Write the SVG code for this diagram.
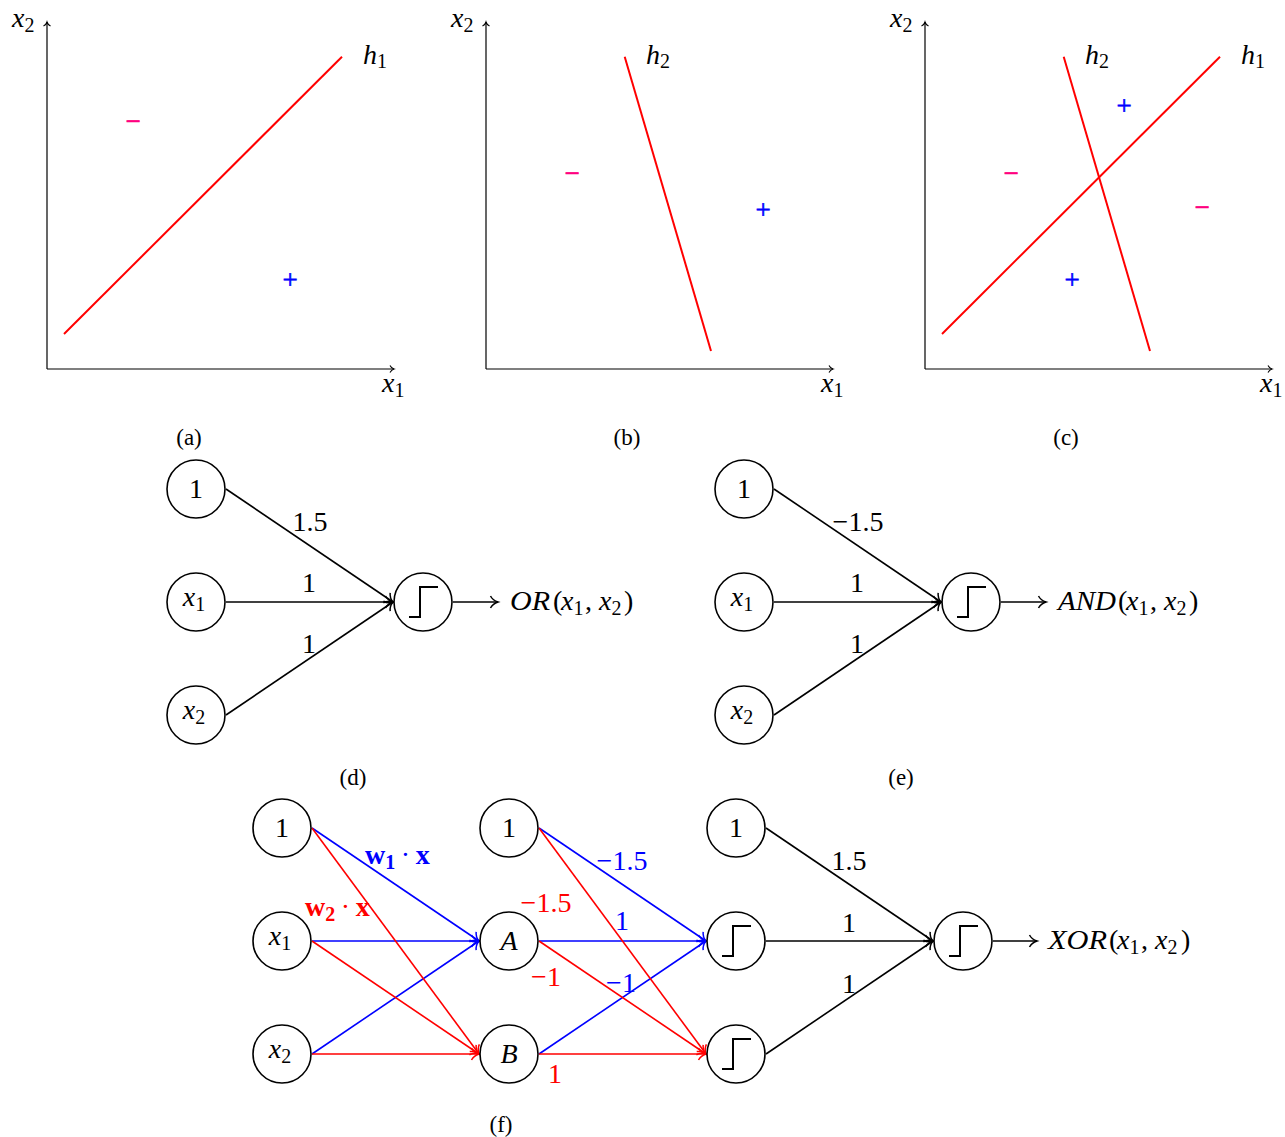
<svg xmlns="http://www.w3.org/2000/svg" xmlns:xlink="http://www.w3.org/1999/xlink" width="1285" height="1137" viewBox="0 0 1285 1137">
  <style>
    text { font-family: "Liberation Serif", "Times New Roman", serif; font-size: 28px; fill: #000; }
    .i { font-style: italic; }
    .b { font-weight: bold; }
    .sub { font-size: 20px; }
    .cap { font-size: 23px; }
    .sign { font-size: 27px; stroke-width: 0.6px; }
    .neu { fill: #fff; stroke: #000; stroke-width: 1.6; }
    .axis { stroke: #000; stroke-width: 1.2; fill: none; marker-end: url(#axtip); }
    .hyp { stroke: #ff0000; stroke-width: 2; fill: none; }
    .e { fill: none; stroke-width: 1.6; }
    .k { stroke: #000; marker-end: url(#tipk); }
    .bl { stroke: #0000ff; marker-end: url(#tipb); }
    .rd { stroke: #ff0000; marker-end: url(#tipr); }
    .stepfn { fill: none; stroke: #000; stroke-width: 2; }
    .blue { fill: #0000ff; }
    .red { fill: #ff0000; }
    .sign.blue { stroke: #0000ff; }
    .pink { fill: #ff0080; stroke: #ff0080; }
  </style>
  <defs>
    <marker id="axtip" markerUnits="userSpaceOnUse" viewBox="-8 -6 10 12" refX="0" refY="0" markerWidth="10" markerHeight="12" orient="auto" overflow="visible">
      <path d="M-4,-3.5 C-3,-1.5 -1,-0.3 0,0 C-1,0.3 -3,1.5 -4,3.5" fill="none" stroke="#000" stroke-width="1.1"/>
    </marker>
    <marker id="tipk" markerUnits="userSpaceOnUse" viewBox="-10 -8 12 16" refX="0" refY="0" markerWidth="12" markerHeight="16" orient="auto" overflow="visible">
      <path d="M-7.5,-6 C-5.8,-2.8 -2,-0.6 0,0 C-2,0.6 -5.8,2.8 -7.5,6" fill="none" stroke="#000" stroke-width="1.5"/>
    </marker>
    <marker id="tipb" markerUnits="userSpaceOnUse" viewBox="-10 -8 12 16" refX="0" refY="0" markerWidth="12" markerHeight="16" orient="auto" overflow="visible">
      <path d="M-7.5,-6 C-5.8,-2.8 -2,-0.6 0,0 C-2,0.6 -5.8,2.8 -7.5,6" fill="none" stroke="#0000ff" stroke-width="1.5"/>
    </marker>
    <marker id="tipr" markerUnits="userSpaceOnUse" viewBox="-10 -8 12 16" refX="0" refY="0" markerWidth="12" markerHeight="16" orient="auto" overflow="visible">
      <path d="M-7.5,-6 C-5.8,-2.8 -2,-0.6 0,0 C-2,0.6 -5.8,2.8 -7.5,6" fill="none" stroke="#ff0000" stroke-width="1.5"/>
    </marker>
    <!-- threshold (step) activation glyph, drawn about a neuron centre -->
    <path id="step" class="stepfn" d="M-14,15 H-3 V-15 H15"/>
  </defs>

  <!-- ===== (a) decision line h1 ===== -->
  <g id="plot-a">
    <path class="axis" d="M47,369 V22"/>
    <path class="axis" d="M47,369 H394"/>
    <text x="12" y="27"><tspan class="i">x</tspan><tspan class="sub" dy="5">2</tspan></text>
    <text x="382" y="392"><tspan class="i">x</tspan><tspan class="sub" dy="5">1</tspan></text>
    <path class="hyp" d="M64,334 L342,56.7"/>
    <text x="363" y="64"><tspan class="i">h</tspan><tspan class="sub" dy="4">1</tspan></text>
    <text class="sign pink" x="133" y="130" text-anchor="middle">−</text>
    <text class="sign blue" x="290" y="289" text-anchor="middle">+</text>
    <text class="cap" x="189" y="445" text-anchor="middle">(a)</text>
  </g>

  <!-- ===== (b) decision line h2 ===== -->
  <g id="plot-b">
    <path class="axis" d="M486,369 V22"/>
    <path class="axis" d="M486,369 H833"/>
    <text x="451" y="27"><tspan class="i">x</tspan><tspan class="sub" dy="5">2</tspan></text>
    <text x="821" y="392"><tspan class="i">x</tspan><tspan class="sub" dy="5">1</tspan></text>
    <path class="hyp" d="M624.7,56.7 L711,351"/>
    <text x="646" y="64"><tspan class="i">h</tspan><tspan class="sub" dy="4">2</tspan></text>
    <text class="sign pink" x="572" y="182" text-anchor="middle">−</text>
    <text class="sign blue" x="763" y="219" text-anchor="middle">+</text>
    <text class="cap" x="627" y="445" text-anchor="middle">(b)</text>
  </g>

  <!-- ===== (c) both lines ===== -->
  <g id="plot-c">
    <path class="axis" d="M925,369 V22"/>
    <path class="axis" d="M925,369 H1272"/>
    <text x="890" y="27"><tspan class="i">x</tspan><tspan class="sub" dy="5">2</tspan></text>
    <text x="1260" y="392"><tspan class="i">x</tspan><tspan class="sub" dy="5">1</tspan></text>
    <path class="hyp" d="M942,334 L1220,56.7"/>
    <path class="hyp" d="M1063.7,56.7 L1150,351"/>
    <text x="1085" y="64"><tspan class="i">h</tspan><tspan class="sub" dy="4">2</tspan></text>
    <text x="1241" y="64"><tspan class="i">h</tspan><tspan class="sub" dy="4">1</tspan></text>
    <text class="sign blue" x="1124" y="115" text-anchor="middle">+</text>
    <text class="sign pink" x="1011" y="182" text-anchor="middle">−</text>
    <text class="sign pink" x="1202" y="216" text-anchor="middle">−</text>
    <text class="sign blue" x="1072" y="289" text-anchor="middle">+</text>
    <text class="cap" x="1066" y="445" text-anchor="middle">(c)</text>
  </g>

  <!-- ===== connectors ===== -->
  <g id="connectors">
    <!-- (d) OR perceptron -->
    <path class="e k" d="M226,489 L393,602"/>
    <path class="e k" d="M226,602 L393,602"/>
    <path class="e k" d="M226,715 L393,602"/>
    <path class="e k" d="M453,602 L498,602"/>
    <!-- (e) AND perceptron -->
    <path class="e k" d="M774,489 L941,602"/>
    <path class="e k" d="M774,602 L941,602"/>
    <path class="e k" d="M774,715 L941,602"/>
    <path class="e k" d="M1001,602 L1046,602"/>
    <!-- (f) inputs to hidden units A and B -->
    <path class="e bl" d="M312,828 L479,941"/>
    <path class="e bl" d="M312,941 L479,941"/>
    <path class="e bl" d="M312,1054 L479,941"/>
    <path class="e rd" d="M312,828 L479,1054"/>
    <path class="e rd" d="M312,941 L479,1054"/>
    <path class="e rd" d="M312,1054 L479,1054"/>
    <!-- (f) A, B to threshold units -->
    <path class="e bl" d="M539,828 L706,941"/>
    <path class="e bl" d="M539,941 L706,941"/>
    <path class="e bl" d="M539,1054 L706,941"/>
    <path class="e rd" d="M539,828 L706,1054"/>
    <path class="e rd" d="M539,941 L706,1054"/>
    <path class="e rd" d="M539,1054 L706,1054"/>
    <!-- (f) output unit -->
    <path class="e k" d="M766,828 L933,941"/>
    <path class="e k" d="M766,941 L933,941"/>
    <path class="e k" d="M766,1054 L933,941"/>
    <path class="e k" d="M993,941 L1037,941"/>
  </g>

  <!-- ===== edge weights ===== -->
  <g id="weights">
    <text x="310" y="531" text-anchor="middle">1.5</text>
    <text x="309" y="592" text-anchor="middle">1</text>
    <text x="309" y="653" text-anchor="middle">1</text>
    <text x="858" y="531" text-anchor="middle">−1.5</text>
    <text x="857" y="592" text-anchor="middle">1</text>
    <text x="857" y="653" text-anchor="middle">1</text>

    <text class="blue b" x="365" y="864">w<tspan class="sub" dy="5">1</tspan><tspan dy="-5" font-weight="normal">&#8201;·&#8201;</tspan>x</text>
    <text class="red b" x="305" y="916">w<tspan class="sub" dy="5">2</tspan><tspan dy="-5" font-weight="normal">&#8201;·&#8201;</tspan>x</text>
    <text class="blue" x="622" y="870" text-anchor="middle">−1.5</text>
    <text class="red" x="546" y="912" text-anchor="middle">−1.5</text>
    <text class="blue" x="622" y="930" text-anchor="middle">1</text>
    <text class="red" x="546" y="986" text-anchor="middle">−1</text>
    <text class="blue" x="621" y="992" text-anchor="middle">−1</text>
    <text class="red" x="555" y="1083" text-anchor="middle">1</text>
    <text x="849" y="870" text-anchor="middle">1.5</text>
    <text x="849" y="932" text-anchor="middle">1</text>
    <text x="849" y="993" text-anchor="middle">1</text>
  </g>

  <!-- ===== (d) OR network nodes ===== -->
  <g id="d-bias"><circle class="neu" cx="196" cy="489" r="29"/><text x="196" y="498" text-anchor="middle">1</text></g>
  <g id="d-x1"><circle class="neu" cx="196" cy="602" r="29"/><text x="194" y="606" text-anchor="middle"><tspan class="i">x</tspan><tspan class="sub" dy="5">1</tspan></text></g>
  <g id="d-x2"><circle class="neu" cx="196" cy="715" r="29"/><text x="194" y="719" text-anchor="middle"><tspan class="i">x</tspan><tspan class="sub" dy="5">2</tspan></text></g>
  <g id="d-out"><circle class="neu" cx="423" cy="602" r="29"/><use xlink:href="#step" href="#step" x="423" y="602"/></g>
  <g id="d-label"><text x="510" y="610"><tspan class="i" textLength="40" lengthAdjust="spacingAndGlyphs">OR</tspan><tspan x="553">(</tspan><tspan class="i" x="561">x</tspan><tspan class="sub" dy="5">1</tspan><tspan dy="-5" x="585">,</tspan><tspan class="i" x="599">x</tspan><tspan class="sub" dy="5">2</tspan><tspan dy="-5" x="624">)</tspan></text></g>
  <text class="cap" x="353" y="785" text-anchor="middle">(d)</text>

  <!-- ===== (e) AND network nodes ===== -->
  <g id="e-bias"><circle class="neu" cx="744" cy="489" r="29"/><text x="744" y="498" text-anchor="middle">1</text></g>
  <g id="e-x1"><circle class="neu" cx="744" cy="602" r="29"/><text x="742" y="606" text-anchor="middle"><tspan class="i">x</tspan><tspan class="sub" dy="5">1</tspan></text></g>
  <g id="e-x2"><circle class="neu" cx="744" cy="715" r="29"/><text x="742" y="719" text-anchor="middle"><tspan class="i">x</tspan><tspan class="sub" dy="5">2</tspan></text></g>
  <g id="e-out"><circle class="neu" cx="971" cy="602" r="29"/><use xlink:href="#step" href="#step" x="971" y="602"/></g>
  <g id="e-label"><text x="1058" y="610"><tspan class="i" textLength="58" lengthAdjust="spacingAndGlyphs">AND</tspan><tspan x="1118">(</tspan><tspan class="i" x="1126">x</tspan><tspan class="sub" dy="5">1</tspan><tspan dy="-5" x="1150">,</tspan><tspan class="i" x="1164">x</tspan><tspan class="sub" dy="5">2</tspan><tspan dy="-5" x="1189">)</tspan></text></g>
  <text class="cap" x="901" y="785" text-anchor="middle">(e)</text>

  <!-- ===== (f) XOR network nodes ===== -->
  <g id="f-bias1"><circle class="neu" cx="282" cy="828" r="29"/><text x="282" y="837" text-anchor="middle">1</text></g>
  <g id="f-x1"><circle class="neu" cx="282" cy="941" r="29"/><text x="280" y="945" text-anchor="middle"><tspan class="i">x</tspan><tspan class="sub" dy="5">1</tspan></text></g>
  <g id="f-x2"><circle class="neu" cx="282" cy="1054" r="29"/><text x="280" y="1058" text-anchor="middle"><tspan class="i">x</tspan><tspan class="sub" dy="5">2</tspan></text></g>
  <g id="f-bias2"><circle class="neu" cx="509" cy="828" r="29"/><text x="509" y="837" text-anchor="middle">1</text></g>
  <g id="f-A"><circle class="neu" cx="509" cy="941" r="29"/><text class="i" x="509" y="950" text-anchor="middle">A</text></g>
  <g id="f-B"><circle class="neu" cx="509" cy="1054" r="29"/><text class="i" x="509" y="1063" text-anchor="middle">B</text></g>
  <g id="f-bias3"><circle class="neu" cx="736" cy="828" r="29"/><text x="736" y="837" text-anchor="middle">1</text></g>
  <g id="f-h1"><circle class="neu" cx="736" cy="941" r="29"/><use xlink:href="#step" href="#step" x="736" y="941"/></g>
  <g id="f-h2"><circle class="neu" cx="736" cy="1054" r="29"/><use xlink:href="#step" href="#step" x="736" y="1054"/></g>
  <g id="f-out"><circle class="neu" cx="963" cy="941" r="29"/><use xlink:href="#step" href="#step" x="963" y="941"/></g>
  <g id="f-label"><text x="1048" y="949"><tspan class="i" textLength="59" lengthAdjust="spacingAndGlyphs">XOR</tspan><tspan x="1109">(</tspan><tspan class="i" x="1117">x</tspan><tspan class="sub" dy="5">1</tspan><tspan dy="-5" x="1141">,</tspan><tspan class="i" x="1155">x</tspan><tspan class="sub" dy="5">2</tspan><tspan dy="-5" x="1181">)</tspan></text></g>
  <text class="cap" x="501" y="1132" text-anchor="middle">(f)</text>
</svg>
